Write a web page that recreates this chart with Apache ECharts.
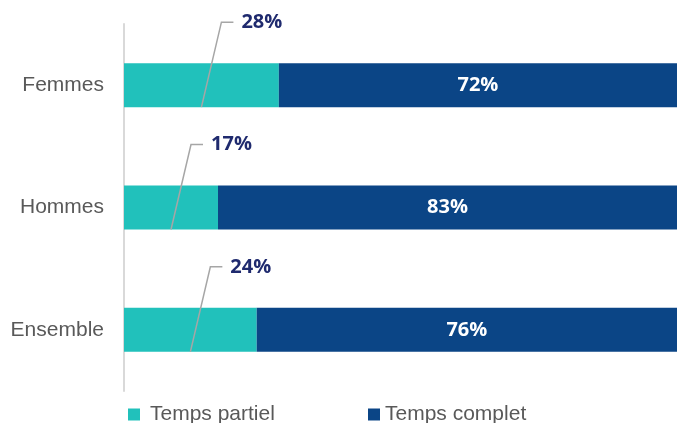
<!DOCTYPE html>
<html>
<head>
<meta charset="utf-8">
<script src="https://cdn.jsdelivr.net/npm/echarts@6/dist/echarts.min.js"></script>
<style>
  html, body { margin: 0; padding: 0; background: #fff; }
  #main { width: 677px; height: 423px; }
</style>
</head>
<body>
<div id="main"></div>
<script>
var myChart = echarts.init(document.getElementById('main'));

var categories = ['Femmes', 'Hommes', 'Ensemble'];
var partiel = [28, 17, 24];
var complet = [72, 83, 76];

// leader line + label for the small share, drawn from bar bottom middle
var partielLabels = partiel.map(function (v, i) { return [v, i]; });

var option = {
    backgroundColor: '#ffffff',
    color: ['#21c1bb', '#0b4586'],
    legend: [
      {
        data: ['Temps partiel'],
        left: 123,
        top: 399,
        itemWidth: 12,
        itemHeight: 12,
        icon: 'rect',
        textStyle: { color: '#595959', fontSize: 21, fontFamily: 'Liberation Sans', padding: [0, 0, 0, 5] }
      },
      {
        data: ['Temps complet'],
        left: 363,
        top: 399,
        itemWidth: 12,
        itemHeight: 12,
        icon: 'rect',
        textStyle: { color: '#595959', fontSize: 21, fontFamily: 'Liberation Sans' }
      }
    ],
    grid: {
        left: 124,
        right: 0,
        top: 24,
        bottom: 32
    },
    xAxis: {
        type: 'value',
        min: 0,
        max: 100,
        show: false
    },
    yAxis: {
        type: 'category',
        data: categories,
        inverse: true,
        axisTick: { show: false },
        axisLine: {
            lineStyle: { color: '#d9d9d9', width: 2 }
        },
        axisLabel: {
            margin: 20,
            color: '#595959',
            fontSize: 21,
            fontFamily: 'Liberation Sans'
        }
    },
    series: [
        {
            name: 'Temps partiel',
            type: 'bar',
            stack: 'total',
            barWidth: '36%',
            data: partiel
        },
        {
            name: 'Temps complet',
            type: 'bar',
            stack: 'total',
            data: complet,
            label: {
                show: true,
                position: 'inside',
                formatter: '{c}%',
                color: '#ffffff',
                fontWeight: 'bold',
                fontSize: 20,
                fontFamily: 'Open Sans'
            }
        },
        {
            name: 'labels',
            type: 'custom',
            z: 10,
            encode: { x: 0, y: 1 },
            data: partielLabels,
            renderItem: function (params, api) {
                var mid = api.coord([api.value(0) / 2, api.value(1)]);
                var half = api.size([0, 1])[1] * 0.36 / 2;
                var bottom = mid[1] + half;
                var top = bottom - 85;
                return {
                    type: 'group',
                    children: [
                        {
                            type: 'polyline',
                            shape: { points: [[mid[0], bottom], [mid[0] + 20, top], [mid[0] + 32, top]] },
                            style: { stroke: '#a6a6a6', lineWidth: 1.5, fill: null }
                        },
                        {
                            type: 'text',
                            x: mid[0] + 40,
                            y: top,
                            style: {
                                text: api.value(0) + '%',
                                fill: '#1f2a6e',
                                font: 'bold 20px "Open Sans"',
                                verticalAlign: 'middle',
                                align: 'left'
                            }
                        }
                    ]
                };
            }
        }
    ]
};

myChart.setOption(option);
</script>
</body>
</html>
